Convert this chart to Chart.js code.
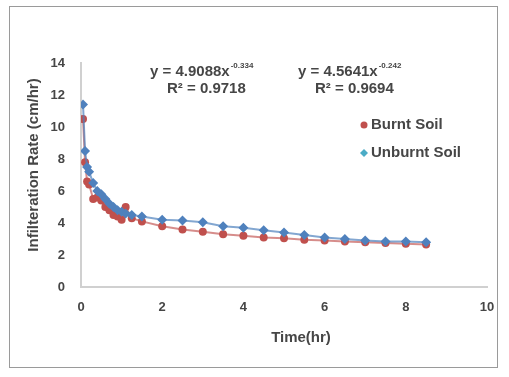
<!DOCTYPE html>
<html>
<head>
<meta charset="utf-8">
<script src="https://cdn.jsdelivr.net/npm/chart.js@4/dist/chart.umd.min.js"></script>
<style>
  html, body { margin: 0; padding: 0; background: #fff; }
  #wrap { position: relative; width: 509px; height: 377px; }
  #frame { position: absolute; left: 9px; top: 6px; width: 489px; height: 362px; border: 1px solid #9a9a9a; box-sizing: border-box; pointer-events: none; }
</style>
</head>
<body>
<div id="wrap">
  <canvas id="infil-chart" width="509" height="377"></canvas>
  <div id="frame"></div>
</div>
<script>
// time (hr) of each reading
const times = [0.05, 0.1, 0.15, 0.2, 0.3, 0.4, 0.5, 0.6, 0.7, 0.8, 0.9, 1.0, 1.1, 1.25, 1.5,
  2.0, 2.5, 3.0, 3.5, 4.0, 4.5, 5.0, 5.5, 6.0, 6.5, 7.0, 7.5, 8.0, 8.5];
// infiltration rate (cm/hr)
const burntSoil = [10.5, 7.8, 6.6, 6.4, 5.5, 5.6, 5.4, 5.0, 4.8, 4.5, 4.4, 4.2, 5.0, 4.3, 4.1,
  3.8, 3.6, 3.45, 3.3, 3.2, 3.1, 3.05, 2.95, 2.9, 2.85, 2.8, 2.75, 2.7, 2.65];
const unburntSoil = [11.4, 8.5, 7.5, 7.2, 6.5, 6.0, 5.8, 5.5, 5.2, 5.0, 4.8, 4.7, 4.6, 4.5, 4.4,
  4.2, 4.15, 4.05, 3.8, 3.7, 3.55, 3.4, 3.25, 3.1, 3.0, 2.9, 2.85, 2.85, 2.8];
const xTicks = [0, 2, 4, 6, 8, 10];
const yTicks = [0, 2, 4, 6, 8, 10, 12, 14];
const seriesNames = ["Burnt Soil", "Unburnt Soil"];
const xTitle = "Time(hr)";
const yTitle = "Infilteration Rate (cm/hr)";
const fitLabels = [
  { eq: "y = 4.9088x", exp: "-0.334", r2: "R² = 0.9718" },
  { eq: "y = 4.5641x", exp: "-0.242", r2: "R² = 0.9694" },
];

const RED = "#c0504d";
const BLUE = "#4f81bd";
const TEXT = "#464646";
const FONT = "Liberation Sans, Arial, sans-serif";

const toPoints = (vals) => times.map((t, i) => ({ x: t, y: vals[i] }));

// axis titles, legend and fit equations placed where Excel had them
const annotations = {
  id: "annotations",
  afterDraw(chart) {
    const ctx = chart.ctx;
    ctx.save();
    ctx.fillStyle = TEXT;
    ctx.textBaseline = "middle";

    // axis titles (Excel put them a bit off-centre)
    ctx.font = "bold 15px " + FONT;
    ctx.textAlign = "center";
    ctx.fillText(xTitle, 301, 338);
    ctx.save();
    ctx.translate(34, 165);
    ctx.rotate(-Math.PI / 2);
    ctx.fillText(yTitle, 0, 0);
    ctx.restore();

    const eqPos = [{ x: 150, y: 72, r2x: 167 }, { x: 298, y: 72, r2x: 315 }];
    fitLabels.forEach((f, i) => {
      const p = eqPos[i];
      ctx.font = "bold 15px " + FONT;
      ctx.textAlign = "left";
      ctx.fillText(f.eq, p.x, p.y);
      const w = ctx.measureText(f.eq).width;
      ctx.font = "bold 8px " + FONT;
      ctx.fillText(f.exp, p.x + w + 1, p.y - 6);
      ctx.font = "bold 15px " + FONT;
      ctx.fillText(f.r2, p.r2x, p.y + 17);
    });

    // legend
    const items = [
      { label: seriesNames[0], color: RED, style: "circle", y: 125 },
      { label: seriesNames[1], color: "#4bacc6", style: "diamond", y: 153 },
    ];
    items.forEach((it) => {
      const mx = 364;
      ctx.fillStyle = it.color;
      ctx.beginPath();
      if (it.style === "circle") {
        ctx.arc(mx, it.y, 3.5, 0, Math.PI * 2);
      } else {
        ctx.moveTo(mx, it.y - 4); ctx.lineTo(mx + 4, it.y);
        ctx.lineTo(mx, it.y + 4); ctx.lineTo(mx - 4, it.y);
        ctx.closePath();
      }
      ctx.fill();
      ctx.fillStyle = TEXT;
      ctx.font = "bold 15px " + FONT;
      ctx.textAlign = "left";
      ctx.fillText(it.label, 371, it.y);
    });
    ctx.restore();
  },
};

new Chart(document.getElementById("infil-chart").getContext("2d"), {
  type: "scatter",
  data: {
    datasets: [
      {
        label: seriesNames[1],
        data: toPoints(unburntSoil),
        showLine: true,
        borderColor: "rgba(79,129,189,0.7)",
        borderWidth: 2,
        backgroundColor: BLUE,
        pointStyle: "rectRot",
        pointRadius: 5,
        pointBorderWidth: 0,
        order: 0,
      },
      {
        label: seriesNames[0],
        data: toPoints(burntSoil),
        showLine: true,
        borderColor: "rgba(192,80,77,0.65)",
        borderWidth: 2,
        backgroundColor: RED,
        pointStyle: "circle",
        pointRadius: 4,
        pointBorderWidth: 0,
        order: 1,
      },
    ],
  },
  options: {
    responsive: false,
    animation: false,
    layout: { padding: { left: 22, top: 63, right: 22, bottom: 26 } },
    plugins: {
      legend: { display: false },
      tooltip: { enabled: false },
    },
    scales: {
      x: {
        type: "linear",
        min: 0,
        max: 10,
        afterFit: (s) => { s.height = 64; },
        afterBuildTicks: (s) => { s.ticks = xTicks.map((v) => ({ value: v })); },
        grid: { display: false, drawTicks: false },
        border: { display: true, color: "#d0d0d0", width: 2 },
        ticks: { padding: 13, color: TEXT, font: { family: FONT, size: 13, weight: "bold" } },
      },
      y: {
        type: "linear",
        min: 0,
        max: 14,
        afterFit: (s) => { s.width = 59; },
        afterBuildTicks: (s) => { s.ticks = yTicks.map((v) => ({ value: v })); },
        grid: { display: false, drawTicks: false },
        border: { display: true, color: "#d0d0d0", width: 2 },
        ticks: { padding: 16, color: TEXT, font: { family: FONT, size: 13, weight: "bold" } },
      },
    },
  },
  plugins: [annotations],
});
</script>
</body>
</html>
